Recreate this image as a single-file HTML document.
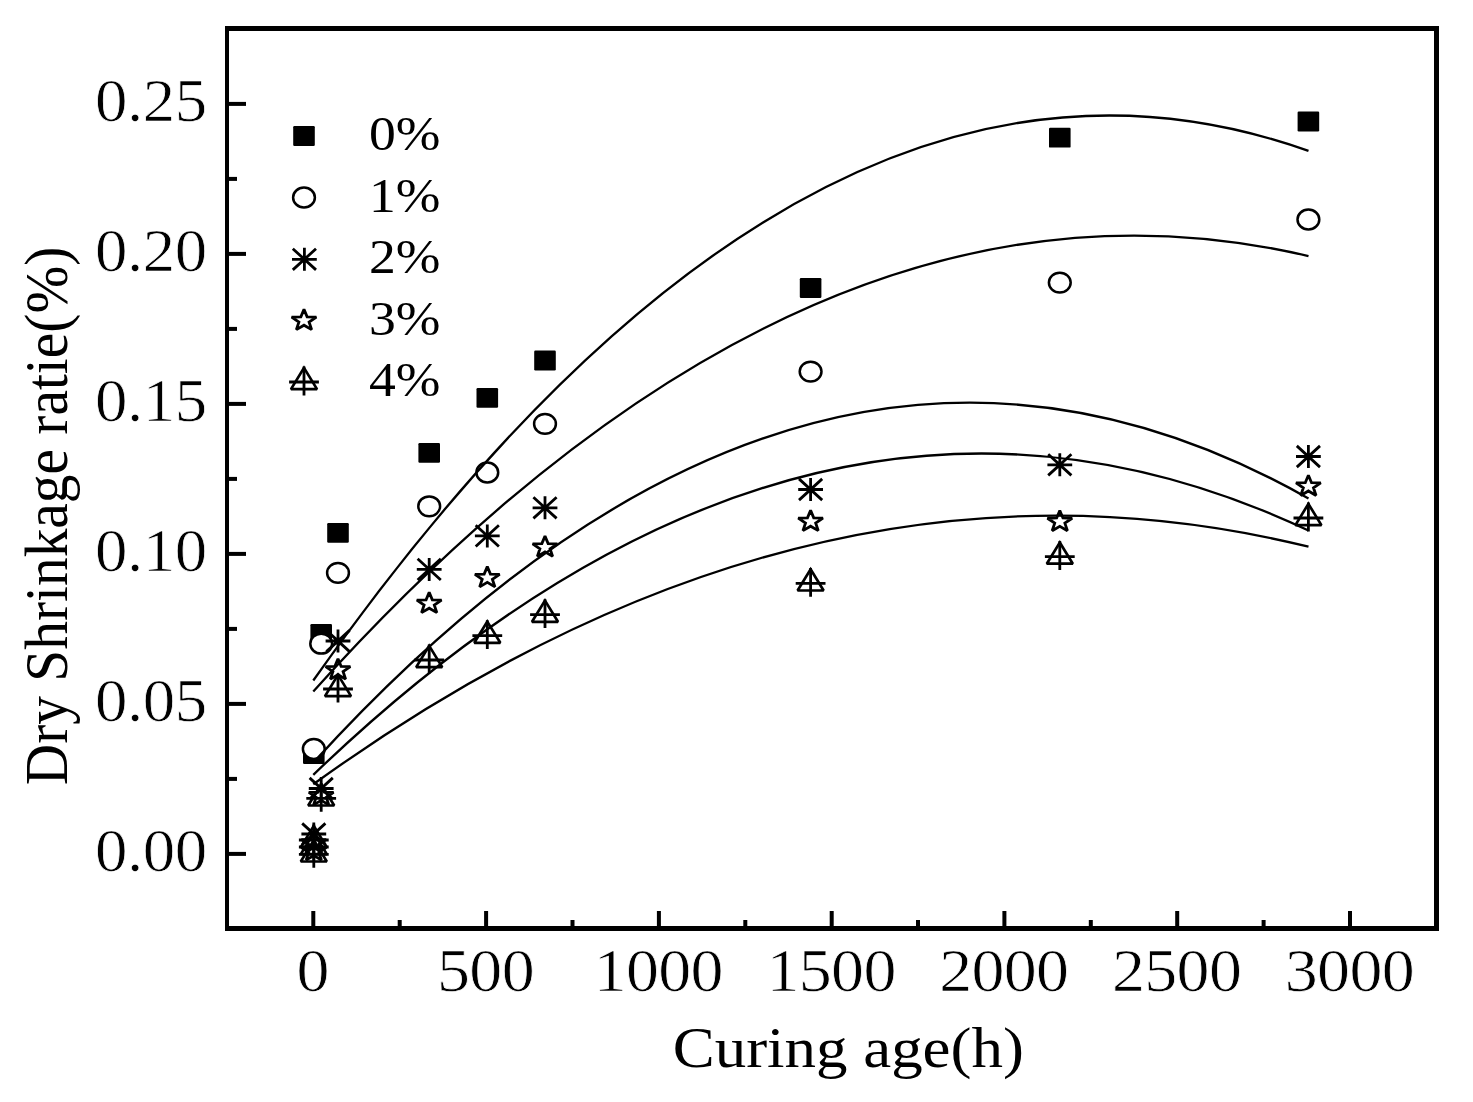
<!DOCTYPE html>
<html><head><meta charset="utf-8"><title>Dry Shrinkage</title>
<style>
html,body{margin:0;padding:0;background:#fff;}
body{width:1473px;height:1102px;overflow:hidden;}
svg{display:block;}
text{font-family:"Liberation Serif", serif;fill:#000;}
text.t{stroke:#fff;stroke-width:0.7px;}
</style></head><body>
<svg width="1473" height="1102" viewBox="0 0 1473 1102">
<rect x="0" y="0" width="1473" height="1102" fill="#fff"/>

<g>
<rect x="303.0" y="744.1" width="21.6" height="19.8" rx="1.2" fill="#000"/>
<rect x="310.4" y="624.1" width="21.6" height="19.8" rx="1.2" fill="#000"/>
<rect x="327.2" y="523.0" width="21.6" height="19.8" rx="1.2" fill="#000"/>
<rect x="418.4" y="443.0" width="21.6" height="19.8" rx="1.2" fill="#000"/>
<rect x="476.5" y="388.0" width="21.6" height="19.8" rx="1.2" fill="#000"/>
<rect x="534.2" y="350.6" width="21.6" height="19.8" rx="1.2" fill="#000"/>
<rect x="799.8" y="278.1" width="21.6" height="19.8" rx="1.2" fill="#000"/>
<rect x="1049.0" y="127.8" width="21.6" height="19.8" rx="1.2" fill="#000"/>
<rect x="1297.6" y="111.6" width="21.6" height="19.8" rx="1.2" fill="#000"/>
<ellipse cx="313.8" cy="749.0" rx="10.9" ry="9.9" fill="#fff" stroke="#000" stroke-width="2.5"/>
<ellipse cx="321.2" cy="643.7" rx="10.9" ry="9.9" fill="#fff" stroke="#000" stroke-width="2.5"/>
<ellipse cx="338.0" cy="572.9" rx="10.9" ry="9.9" fill="#fff" stroke="#000" stroke-width="2.5"/>
<ellipse cx="429.2" cy="506.3" rx="10.9" ry="9.9" fill="#fff" stroke="#000" stroke-width="2.5"/>
<ellipse cx="487.3" cy="472.5" rx="10.9" ry="9.9" fill="#fff" stroke="#000" stroke-width="2.5"/>
<ellipse cx="545.0" cy="423.9" rx="10.9" ry="9.9" fill="#fff" stroke="#000" stroke-width="2.5"/>
<ellipse cx="810.6" cy="371.6" rx="10.9" ry="9.9" fill="#fff" stroke="#000" stroke-width="2.5"/>
<ellipse cx="1059.8" cy="282.6" rx="10.9" ry="9.9" fill="#fff" stroke="#000" stroke-width="2.5"/>
<ellipse cx="1308.4" cy="219.5" rx="10.9" ry="9.9" fill="#fff" stroke="#000" stroke-width="2.5"/>
<path d="M313.8,822.5V845.5M301.4,834.0H326.2M302.2,823.4L325.4,844.6M325.4,823.4L302.2,844.6" fill="none" stroke="#000" stroke-width="2.8"/>
<path d="M321.2,777.0V800.0M308.8,788.5H333.6M309.6,777.9L332.8,799.1M332.8,777.9L309.6,799.1" fill="none" stroke="#000" stroke-width="2.8"/>
<path d="M338.0,629.5V652.5M325.6,641.0H350.4M326.4,630.4L349.6,651.6M349.6,630.4L326.4,651.6" fill="none" stroke="#000" stroke-width="2.8"/>
<path d="M429.2,557.9V580.9M416.8,569.4H441.6M417.6,558.8L440.8,580.0M440.8,558.8L417.6,580.0" fill="none" stroke="#000" stroke-width="2.8"/>
<path d="M487.3,524.4V547.4M474.9,535.9H499.7M475.7,525.3L498.9,546.5M498.9,525.3L475.7,546.5" fill="none" stroke="#000" stroke-width="2.8"/>
<path d="M545.0,496.3V519.3M532.6,507.8H557.4M533.4,497.2L556.6,518.4M556.6,497.2L533.4,518.4" fill="none" stroke="#000" stroke-width="2.8"/>
<path d="M810.6,478.0V501.0M798.2,489.5H823.0M799.0,478.9L822.2,500.1M822.2,478.9L799.0,500.1" fill="none" stroke="#000" stroke-width="2.8"/>
<path d="M1059.8,453.3V476.3M1047.4,464.8H1072.2M1048.2,454.2L1071.4,475.4M1071.4,454.2L1048.2,475.4" fill="none" stroke="#000" stroke-width="2.8"/>
<path d="M1308.4,445.0V468.0M1296.0,456.5H1320.8M1296.8,445.9L1320.0,467.1M1320.0,445.9L1296.8,467.1" fill="none" stroke="#000" stroke-width="2.8"/>
<path d="M313.80,831.80 L316.93,839.28 L326.16,839.54 L318.87,844.42 L321.44,852.06 L313.80,847.59 L306.16,852.06 L308.73,844.42 L301.44,839.54 L310.67,839.28Z" fill="none" stroke="#000" stroke-width="2.8" stroke-linejoin="miter" stroke-miterlimit="2"/>
<path d="M321.20,784.60 L324.33,792.08 L333.56,792.34 L326.27,797.22 L328.84,804.86 L321.20,800.39 L313.56,804.86 L316.13,797.22 L308.84,792.34 L318.07,792.08Z" fill="none" stroke="#000" stroke-width="2.8" stroke-linejoin="miter" stroke-miterlimit="2"/>
<path d="M338.00,658.90 L341.13,666.38 L350.36,666.64 L343.07,671.52 L345.64,679.16 L338.00,674.69 L330.36,679.16 L332.93,671.52 L325.64,666.64 L334.87,666.38Z" fill="none" stroke="#000" stroke-width="2.8" stroke-linejoin="miter" stroke-miterlimit="2"/>
<path d="M429.20,592.40 L432.33,599.88 L441.56,600.14 L434.27,605.02 L436.84,612.66 L429.20,608.19 L421.56,612.66 L424.13,605.02 L416.84,600.14 L426.07,599.88Z" fill="none" stroke="#000" stroke-width="2.8" stroke-linejoin="miter" stroke-miterlimit="2"/>
<path d="M487.30,566.60 L490.43,574.08 L499.66,574.34 L492.37,579.22 L494.94,586.86 L487.30,582.39 L479.66,586.86 L482.23,579.22 L474.94,574.34 L484.17,574.08Z" fill="none" stroke="#000" stroke-width="2.8" stroke-linejoin="miter" stroke-miterlimit="2"/>
<path d="M545.00,536.10 L548.13,543.58 L557.36,543.84 L550.07,548.72 L552.64,556.36 L545.00,551.89 L537.36,556.36 L539.93,548.72 L532.64,543.84 L541.87,543.58Z" fill="none" stroke="#000" stroke-width="2.8" stroke-linejoin="miter" stroke-miterlimit="2"/>
<path d="M810.60,510.40 L813.73,517.88 L822.96,518.14 L815.67,523.02 L818.24,530.66 L810.60,526.19 L802.96,530.66 L805.53,523.02 L798.24,518.14 L807.47,517.88Z" fill="none" stroke="#000" stroke-width="2.8" stroke-linejoin="miter" stroke-miterlimit="2"/>
<path d="M1059.80,510.50 L1062.93,517.98 L1072.16,518.24 L1064.87,523.12 L1067.44,530.76 L1059.80,526.29 L1052.16,530.76 L1054.73,523.12 L1047.44,518.24 L1056.67,517.98Z" fill="none" stroke="#000" stroke-width="2.8" stroke-linejoin="miter" stroke-miterlimit="2"/>
<path d="M1308.40,475.20 L1311.53,482.68 L1320.76,482.94 L1313.47,487.82 L1316.04,495.46 L1308.40,490.99 L1300.76,495.46 L1303.33,487.82 L1296.04,482.94 L1305.27,482.68Z" fill="none" stroke="#000" stroke-width="2.8" stroke-linejoin="miter" stroke-miterlimit="2"/>
<path d="M313.80,839.80 L316.93,847.28 L326.16,847.54 L318.87,852.42 L321.44,860.06 L313.80,855.59 L306.16,860.06 L308.73,852.42 L301.44,847.54 L310.67,847.28Z" fill="none" stroke="#000" stroke-width="2.8" stroke-linejoin="miter" stroke-miterlimit="2"/>
<path d="M313.8,840.3L326.8,861.5L300.8,861.5Z" fill="none" stroke="#000" stroke-width="2.7" stroke-linejoin="miter" stroke-miterlimit="2"/><path d="M313.8,838.9V867.8M298.9,854.4H328.7" fill="none" stroke="#000" stroke-width="2.8"/>
<path d="M321.2,784.3L334.2,805.5L308.2,805.5Z" fill="none" stroke="#000" stroke-width="2.7" stroke-linejoin="miter" stroke-miterlimit="2"/><path d="M321.2,782.9V811.8M306.3,798.4H336.1" fill="none" stroke="#000" stroke-width="2.8"/>
<path d="M338.0,674.9L351.0,696.1L325.0,696.1Z" fill="none" stroke="#000" stroke-width="2.7" stroke-linejoin="miter" stroke-miterlimit="2"/><path d="M338.0,673.5V702.4M323.1,689.0H352.9" fill="none" stroke="#000" stroke-width="2.8"/>
<path d="M429.2,645.9L442.2,667.1L416.2,667.1Z" fill="none" stroke="#000" stroke-width="2.7" stroke-linejoin="miter" stroke-miterlimit="2"/><path d="M429.2,644.5V673.4M414.3,660.0H444.1" fill="none" stroke="#000" stroke-width="2.8"/>
<path d="M487.3,621.6L500.3,642.8L474.3,642.8Z" fill="none" stroke="#000" stroke-width="2.7" stroke-linejoin="miter" stroke-miterlimit="2"/><path d="M487.3,620.2V649.1M472.4,635.7H502.2" fill="none" stroke="#000" stroke-width="2.8"/>
<path d="M545.0,600.6L558.0,621.8L532.0,621.8Z" fill="none" stroke="#000" stroke-width="2.7" stroke-linejoin="miter" stroke-miterlimit="2"/><path d="M545.0,599.2V628.1M530.1,614.7H559.9" fill="none" stroke="#000" stroke-width="2.8"/>
<path d="M810.6,569.3L823.6,590.5L797.6,590.5Z" fill="none" stroke="#000" stroke-width="2.7" stroke-linejoin="miter" stroke-miterlimit="2"/><path d="M810.6,567.9V596.8M795.7,583.4H825.5" fill="none" stroke="#000" stroke-width="2.8"/>
<path d="M1059.8,542.5L1072.8,563.7L1046.8,563.7Z" fill="none" stroke="#000" stroke-width="2.7" stroke-linejoin="miter" stroke-miterlimit="2"/><path d="M1059.8,541.1V570.0M1044.9,556.6H1074.7" fill="none" stroke="#000" stroke-width="2.8"/>
<path d="M1308.4,503.9L1321.4,525.1L1295.4,525.1Z" fill="none" stroke="#000" stroke-width="2.7" stroke-linejoin="miter" stroke-miterlimit="2"/><path d="M1308.4,502.5V531.4M1293.5,518.0H1323.3" fill="none" stroke="#000" stroke-width="2.8"/>
<path d="M313.8,825.9L326.8,847.1L300.8,847.1Z" fill="none" stroke="#000" stroke-width="2.7" stroke-linejoin="miter" stroke-miterlimit="2"/><path d="M313.8,824.5V853.4M298.9,840.0H328.7" fill="none" stroke="#000" stroke-width="2.8"/>
<path d="M313.8,832.9L326.8,854.1L300.8,854.1Z" fill="none" stroke="#000" stroke-width="2.7" stroke-linejoin="miter" stroke-miterlimit="2"/><path d="M313.8,831.5V860.4M298.9,847.0H328.7" fill="none" stroke="#000" stroke-width="2.8"/>
</g>
<g fill="none" stroke="#000" stroke-width="2.3" stroke-linecap="butt">
<path d="M313.3,680.5 Q810.9,-25.9 1308.5,150.9"/>
<path d="M313.3,691.4 Q810.9,138.7 1308.5,256.1"/>
<path d="M313.3,762.6 Q810.9,217.1 1308.5,498.4"/>
<path d="M313.3,774.8 Q810.9,296.3 1308.5,530.5"/>
<path d="M313.3,784.3 Q810.9,424.3 1308.5,546.7"/>
</g>
<rect x="293.2" y="126.1" width="21.6" height="19.8" rx="1.2" fill="#000"/>
<ellipse cx="304.0" cy="197.5" rx="10.9" ry="9.9" fill="#fff" stroke="#000" stroke-width="2.5"/>
<path d="M304.4,247.8V270.8M292.0,259.3H316.8M292.8,248.7L316.0,269.9M316.0,248.7L292.8,269.9" fill="none" stroke="#000" stroke-width="2.8"/>
<path d="M304.00,309.40 L307.13,316.88 L316.36,317.14 L309.07,322.02 L311.64,329.66 L304.00,325.19 L296.36,329.66 L298.93,322.02 L291.64,317.14 L300.87,316.88Z" fill="none" stroke="#000" stroke-width="2.8" stroke-linejoin="miter" stroke-miterlimit="2"/>
<path d="M304.0,367.9L317.0,389.1L291.0,389.1Z" fill="none" stroke="#000" stroke-width="2.7" stroke-linejoin="miter" stroke-miterlimit="2"/><path d="M304.0,366.5V395.4M289.1,382.0H318.9" fill="none" stroke="#000" stroke-width="2.8"/>
<text transform="translate(369,149.8) scale(1.13,1)" x="0" y="0" font-size="47.5">0%</text>
<text transform="translate(369,211.6) scale(1.13,1)" x="0" y="0" font-size="47.5">1%</text>
<text transform="translate(369,273.2) scale(1.13,1)" x="0" y="0" font-size="47.5">2%</text>
<text transform="translate(369,335.4) scale(1.13,1)" x="0" y="0" font-size="47.5">3%</text>
<text transform="translate(369,395.8) scale(1.13,1)" x="0" y="0" font-size="47.5">4%</text>
<g fill="#000">
<rect x="225" y="26" width="1214" height="5"/>
<rect x="225" y="926" width="1214" height="5"/>
<rect x="225" y="26" width="4" height="905"/>
<rect x="1434" y="26" width="5" height="905"/>
</g>
<g fill="#000">
<rect x="229" y="851.9" width="17" height="4"/>
<rect x="229" y="776.9" width="8" height="4"/>
<rect x="229" y="701.9" width="17" height="4"/>
<rect x="229" y="626.9" width="8" height="4"/>
<rect x="229" y="551.9" width="17" height="4"/>
<rect x="229" y="476.9" width="8" height="4"/>
<rect x="229" y="401.9" width="17" height="4"/>
<rect x="229" y="326.9" width="8" height="4"/>
<rect x="229" y="251.9" width="17" height="4"/>
<rect x="229" y="176.9" width="8" height="4"/>
<rect x="229" y="101.9" width="17" height="4"/>
<rect x="311.3" y="911" width="4" height="15"/>
<rect x="397.7" y="920" width="4" height="6"/>
<rect x="484.1" y="911" width="4" height="15"/>
<rect x="570.5" y="920" width="4" height="6"/>
<rect x="656.9" y="911" width="4" height="15"/>
<rect x="743.3" y="920" width="4" height="6"/>
<rect x="829.7" y="911" width="4" height="15"/>
<rect x="916.0" y="920" width="4" height="6"/>
<rect x="1002.4" y="911" width="4" height="15"/>
<rect x="1088.8" y="920" width="4" height="6"/>
<rect x="1175.2" y="911" width="4" height="15"/>
<rect x="1261.6" y="920" width="4" height="6"/>
<rect x="1348.0" y="911" width="4" height="15"/>
</g>
<text class="t" transform="translate(206.6,870.9) scale(1.068,1)" text-anchor="end" font-size="60.8" letter-spacing="-0.5">0.00</text>
<text class="t" transform="translate(206.6,720.9) scale(1.068,1)" text-anchor="end" font-size="60.8" letter-spacing="-0.5">0.05</text>
<text class="t" transform="translate(206.6,570.9) scale(1.068,1)" text-anchor="end" font-size="60.8" letter-spacing="-0.5">0.10</text>
<text class="t" transform="translate(206.6,420.9) scale(1.068,1)" text-anchor="end" font-size="60.8" letter-spacing="-0.5">0.15</text>
<text class="t" transform="translate(206.6,270.9) scale(1.068,1)" text-anchor="end" font-size="60.8" letter-spacing="-0.5">0.20</text>
<text class="t" transform="translate(206.6,120.9) scale(1.068,1)" text-anchor="end" font-size="60.8" letter-spacing="-0.5">0.25</text>
<text class="t" transform="translate(312.7,991.1) scale(1.085,1)" text-anchor="middle" font-size="60.8" letter-spacing="-0.6">0</text>
<text class="t" transform="translate(485.5,991.1) scale(1.085,1)" text-anchor="middle" font-size="60.8" letter-spacing="-0.6">500</text>
<text class="t" transform="translate(658.3,991.1) scale(1.085,1)" text-anchor="middle" font-size="60.8" letter-spacing="-0.6">1000</text>
<text class="t" transform="translate(831.1,991.1) scale(1.085,1)" text-anchor="middle" font-size="60.8" letter-spacing="-0.6">1500</text>
<text class="t" transform="translate(1003.8,991.1) scale(1.085,1)" text-anchor="middle" font-size="60.8" letter-spacing="-0.6">2000</text>
<text class="t" transform="translate(1176.6,991.1) scale(1.085,1)" text-anchor="middle" font-size="60.8" letter-spacing="-0.6">2500</text>
<text class="t" transform="translate(1349.4,991.1) scale(1.085,1)" text-anchor="middle" font-size="60.8" letter-spacing="-0.6">3000</text>
<text transform="translate(848.3,1067) scale(1.085,1)" text-anchor="middle" font-size="58">Curing age(h)</text>
<text transform="translate(67,516) scale(1.085,1) rotate(-90)" text-anchor="middle" font-size="57.4">Dry Shrinkage ratie(%)</text>
</svg></body></html>
